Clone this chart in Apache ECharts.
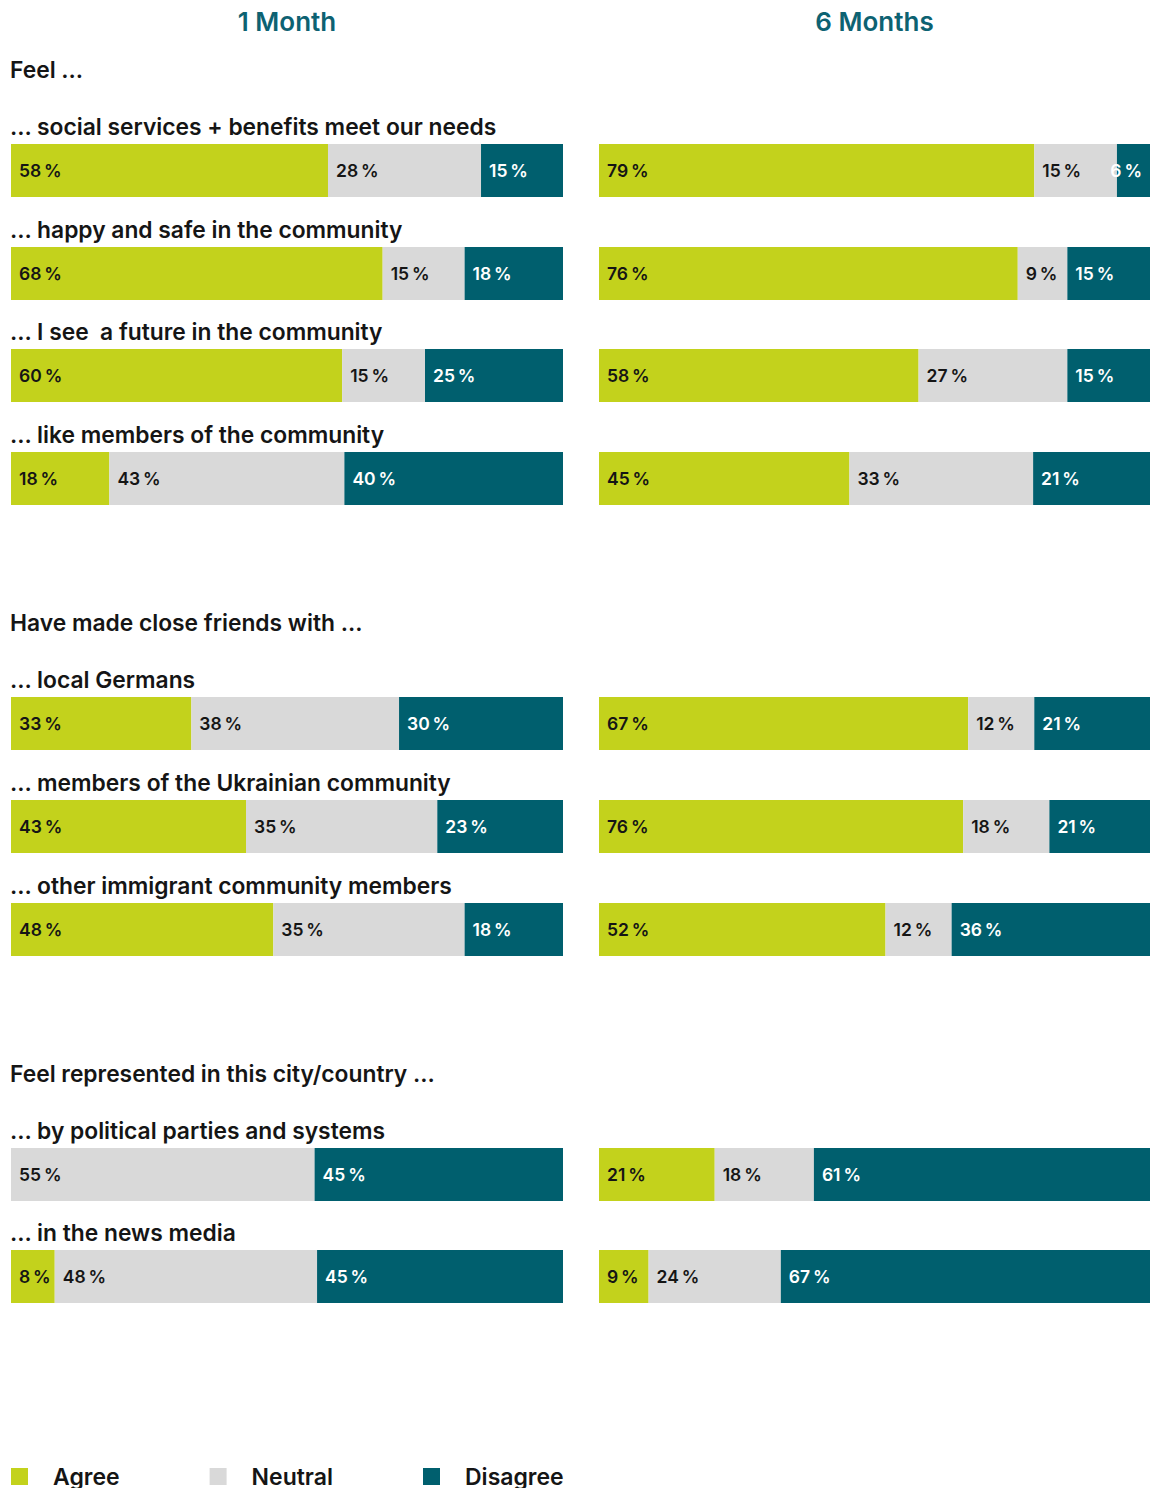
<!DOCTYPE html>
<html>
<head>
<meta charset="utf-8">
<style>
  html, body { margin: 0; padding: 0; background: #ffffff; }
  #chart { width: 1150px; height: 1488px; }
</style>
<script src="https://cdn.jsdelivr.net/npm/echarts@6/dist/echarts.min.js"></script>
</head>
<body>
<div id="chart"></div>
<script>
// Survey statements, grouped into three blocks
const groupHeaders = ['Feel ...', 'Have made close friends with ...', 'Feel represented in this city/country ...'];
const questions = [
  '... social services + benefits meet our needs',
  '... happy and safe in the community',
  '... I see  a future in the community',
  '... like members of the community',
  '... local Germans',
  '... members of the Ukrainian community',
  '... other immigrant community members',
  '... by political parties and systems',
  '... in the news media'
];
const periods = ['1 Month', '6 Months'];
const answers = ['Agree', 'Neutral', 'Disagree'];

// Shares in percent, after 1 month
const agree1 = [58, 68, 60, 18, 33, 43, 48, 0, 8];
const neutral1 = [28, 15, 15, 43, 38, 35, 35, 55, 48];
const disagree1 = [15, 18, 25, 40, 30, 23, 18, 45, 45];
// Shares in percent, after 6 months
const agree6 = [79, 76, 58, 45, 67, 76, 52, 21, 9];
const neutral6 = [15, 9, 27, 33, 12, 18, 12, 18, 24];
const disagree6 = [6, 15, 15, 21, 21, 21, 36, 61, 67];

const colors = { Agree: '#c3d21c', Neutral: '#d9d9d9', Disagree: '#005f6e' };
const textDark = '#151515';
const FONT = 'Inter, "Noto Sans", sans-serif';

// Layout
const panels = [
  { left: 11, width: 552, values: [agree1, neutral1, disagree1] },
  { left: 599, width: 551, values: [agree6, neutral6, disagree6] }
];
const barTops = [144, 247, 349, 452, 697, 800, 903, 1148, 1250];
const barHeight = 53;
const headerY = [69, 622, 1073];

const grids = [], xAxes = [], yAxes = [], series = [];
panels.forEach((panel, p) => {
  questions.forEach((q, r) => {
    const idx = grids.length;
    // each bar spans the full panel width: scale runs to the row's total
    const total = panel.values.reduce((s, arr) => s + arr[r], 0);
    grids.push({ left: panel.left, top: barTops[r], width: panel.width, height: barHeight, containLabel: false });
    xAxes.push({ type: 'value', gridIndex: idx, min: 0, max: total, show: false });
    yAxes.push({ type: 'category', gridIndex: idx, data: [q], show: false });
    answers.forEach((name, a) => {
      const v = panel.values[a][r];
      const segWidth = v / total * panel.width;
      series.push({
        name: name,
        type: 'bar',
        stack: 'row' + idx,
        xAxisIndex: idx,
        yAxisIndex: idx,
        barWidth: '100%',
        silent: true,
        itemStyle: { color: colors[name] },
        label: {
          show: v > 0,
          // very narrow segments keep their label flush right
          position: segWidth < 38 ? 'insideRight' : 'insideLeft',
          distance: 8,
          formatter: (d) => d.value + '\u2009%',
          color: name === 'Disagree' ? '#ffffff' : textDark,
          fontFamily: FONT,
          fontSize: 17.5,
          fontWeight: 600
        },
        data: [v]
      });
    });
  });
});

const graphic = [];
// Period titles centred above each panel
panels.forEach((panel, p) => {
  graphic.push({
    type: 'text',
    x: panel.left + panel.width / 2, y: 21,
    style: { text: periods[p], fill: '#0d6272', font: '600 26px ' + FONT, textAlign: 'center', textVerticalAlign: 'middle' }
  });
});
groupHeaders.forEach((h, g) => {
  graphic.push({
    type: 'text', x: 10, y: headerY[g],
    style: { text: h, fill: textDark, font: '600 22.8px ' + FONT, textAlign: 'left', textVerticalAlign: 'middle' }
  });
});
questions.forEach((q, r) => {
  graphic.push({
    type: 'text', x: 10, y: barTops[r] - 18,
    style: { text: q, fill: textDark, font: '600 22.8px ' + FONT, textAlign: 'left', textVerticalAlign: 'middle' }
  });
});

const chart = echarts.init(document.getElementById('chart'), null, { renderer: 'svg' });
chart.setOption({
  animation: false,
  backgroundColor: '#ffffff',
  grid: grids,
  xAxis: xAxes,
  yAxis: yAxes,
  series: series,
  graphic: graphic,
  legend: {
    data: answers,
    left: 11,
    top: 1465,
    padding: 0,
    icon: 'rect',
    itemWidth: 17,
    itemHeight: 17,
    itemGap: 90,
    selectedMode: false,
    textStyle: { fontFamily: FONT, fontSize: 23, fontWeight: 600, color: textDark, padding: [0, 0, 0, 20] }
  }
});
</script>
</body>
</html>
